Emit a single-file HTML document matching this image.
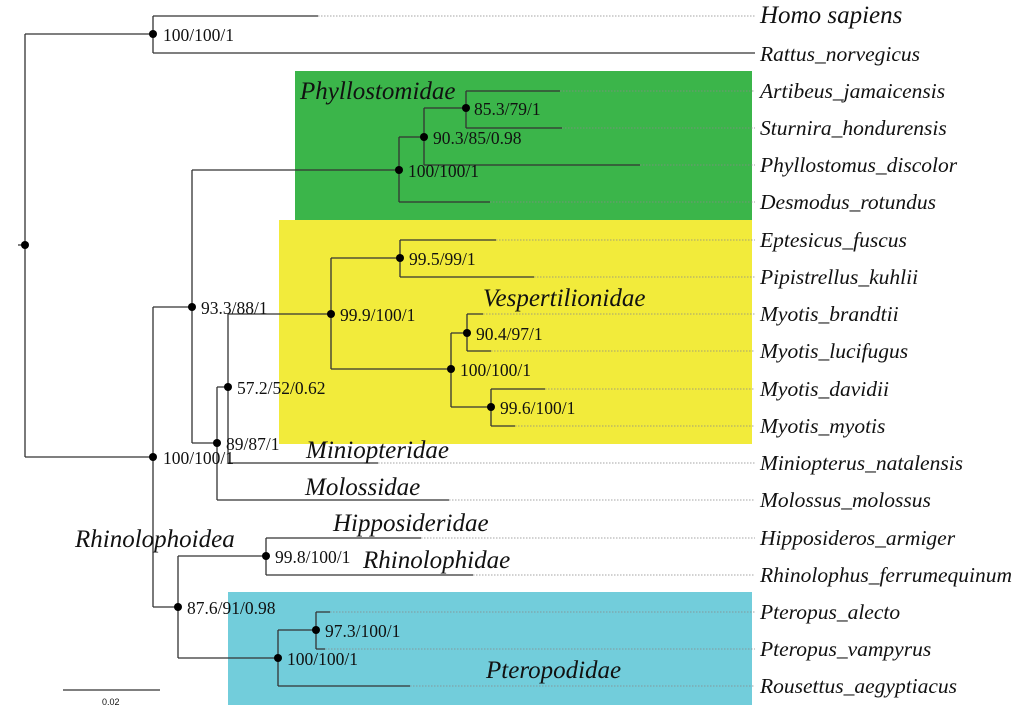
<!DOCTYPE html>
<html><head><meta charset="utf-8"><style>
html,body{margin:0;padding:0;background:#fff;}
svg{display:block;}
.sp{font-family:"Liberation Serif",serif;font-style:italic;font-size:21.5px;fill:#111;}
.cl{font-family:"Liberation Serif",serif;font-style:italic;font-size:25px;fill:#111;}
.bs{font-family:"Liberation Serif",serif;font-size:17.5px;fill:#111;}
.t{stroke:#333;stroke-width:1.3;fill:none;}
.d{stroke:#888;stroke-width:0.8;stroke-dasharray:1.5 1.5;fill:none;}
</style></head><body>
<svg width="1024" height="713" viewBox="0 0 1024 713" xmlns="http://www.w3.org/2000/svg">
<rect x="295" y="71" width="457" height="149" fill="#3bb54a"/>
<rect x="279" y="220" width="473" height="224" fill="#f2eb3b"/>
<rect x="228" y="592" width="524" height="113" fill="#72cddb"/>
<g class="d">
<line x1="318" y1="16" x2="755" y2="16"/>
<line x1="560" y1="91" x2="755" y2="91"/>
<line x1="562" y1="128" x2="755" y2="128"/>
<line x1="640" y1="165" x2="755" y2="165"/>
<line x1="490" y1="202" x2="755" y2="202"/>
<line x1="496" y1="240" x2="755" y2="240"/>
<line x1="534" y1="277" x2="755" y2="277"/>
<line x1="483" y1="314" x2="755" y2="314"/>
<line x1="491" y1="351" x2="755" y2="351"/>
<line x1="545" y1="389" x2="755" y2="389"/>
<line x1="515" y1="426" x2="755" y2="426"/>
<line x1="378" y1="463" x2="755" y2="463"/>
<line x1="449" y1="500" x2="755" y2="500"/>
<line x1="421" y1="538" x2="755" y2="538"/>
<line x1="473" y1="575" x2="755" y2="575"/>
<line x1="330" y1="612" x2="755" y2="612"/>
<line x1="325" y1="649" x2="755" y2="649"/>
<line x1="410" y1="686" x2="755" y2="686"/>
</g>
<g class="t">
<path d="M18 245H25M25 34V457M25 34H153M25 457H153"/>
<path d="M153 16V53M153 16H318M153 53H755"/>
<path d="M153 307V607M153 307H192M153 607H178"/>
<path d="M192 170V443M192 170H399M192 443H217"/>
<path d="M399 137V202M399 202H490M399 137H424"/>
<path d="M424 108V165M424 165H640M424 108H466"/>
<path d="M466 91V128M466 91H560M466 128H562"/>
<path d="M217 387V500M217 387H228M217 500H449"/>
<path d="M228 314V463M228 314H331M228 463H378"/>
<path d="M331 258V369M331 258H400M331 369H451"/>
<path d="M400 240V277M400 240H496M400 277H534"/>
<path d="M451 333V407M451 333H467M451 407H491"/>
<path d="M467 314V351M467 314H483M467 351H491"/>
<path d="M491 389V426M491 389H545M491 426H515"/>
<path d="M178 556V658M178 556H266M178 658H278"/>
<path d="M266 538V575M266 538H421M266 575H473"/>
<path d="M278 630V686M278 630H316M278 686H410"/>
<path d="M316 612V649M316 612H330M316 649H325"/>
<path d="M63 690H160"/>
</g>
<g fill="#000">
<circle cx="25" cy="245" r="4"/><circle cx="153" cy="34" r="4"/><circle cx="153" cy="457" r="4"/>
<circle cx="192" cy="307" r="4"/><circle cx="399" cy="170" r="4"/><circle cx="424" cy="137" r="4"/>
<circle cx="466" cy="108" r="4"/><circle cx="217" cy="443" r="4"/><circle cx="228" cy="387" r="4"/>
<circle cx="331" cy="314" r="4"/><circle cx="400" cy="258" r="4"/><circle cx="451" cy="369" r="4"/>
<circle cx="467" cy="333" r="4"/><circle cx="491" cy="407" r="4"/><circle cx="178" cy="607" r="4"/>
<circle cx="266" cy="556" r="4"/><circle cx="278" cy="658" r="4"/><circle cx="316" cy="630" r="4"/>
</g>
<g class="bs">
<text x="163" y="41">100/100/1</text>
<text x="474" y="115">85.3/79/1</text>
<text x="433" y="144">90.3/85/0.98</text>
<text x="408" y="177">100/100/1</text>
<text x="201" y="314">93.3/88/1</text>
<text x="409" y="265">99.5/99/1</text>
<text x="340" y="321">99.9/100/1</text>
<text x="476" y="340">90.4/97/1</text>
<text x="460" y="376">100/100/1</text>
<text x="500" y="414">99.6/100/1</text>
<text x="237" y="394">57.2/52/0.62</text>
<text x="226" y="450">89/87/1</text>
<text x="163" y="464">100/100/1</text>
<text x="275" y="563">99.8/100/1</text>
<text x="187" y="614">87.6/91/0.98</text>
<text x="325" y="637">97.3/100/1</text>
<text x="287" y="665">100/100/1</text>
</g>
<text x="102" y="705" font-family="Liberation Sans,sans-serif" font-size="9" fill="#111">0.02</text>
<g class="cl">
<text x="300" y="99">Phyllostomidae</text>
<text x="483" y="306">Vespertilionidae</text>
<text x="306" y="458">Miniopteridae</text>
<text x="305" y="495">Molossidae</text>
<text x="333" y="531">Hipposideridae</text>
<text x="363" y="568">Rhinolophidae</text>
<text x="75" y="547">Rhinolophoidea</text>
<text x="486" y="678">Pteropodidae</text>
</g>
<g class="sp">
<text x="760" y="23" font-size="25">Homo sapiens</text>
<text x="760" y="61">Rattus_norvegicus</text>
<text x="760" y="98">Artibeus_jamaicensis</text>
<text x="760" y="135">Sturnira_hondurensis</text>
<text x="760" y="172">Phyllostomus_discolor</text>
<text x="760" y="209">Desmodus_rotundus</text>
<text x="760" y="247">Eptesicus_fuscus</text>
<text x="760" y="284">Pipistrellus_kuhlii</text>
<text x="760" y="321">Myotis_brandtii</text>
<text x="760" y="358">Myotis_lucifugus</text>
<text x="760" y="396">Myotis_davidii</text>
<text x="760" y="433">Myotis_myotis</text>
<text x="760" y="470">Miniopterus_natalensis</text>
<text x="760" y="507">Molossus_molossus</text>
<text x="760" y="545">Hipposideros_armiger</text>
<text x="760" y="582">Rhinolophus_ferrumequinum</text>
<text x="760" y="619">Pteropus_alecto</text>
<text x="760" y="656">Pteropus_vampyrus</text>
<text x="760" y="693">Rousettus_aegyptiacus</text>
</g>
</svg>
</body></html>
